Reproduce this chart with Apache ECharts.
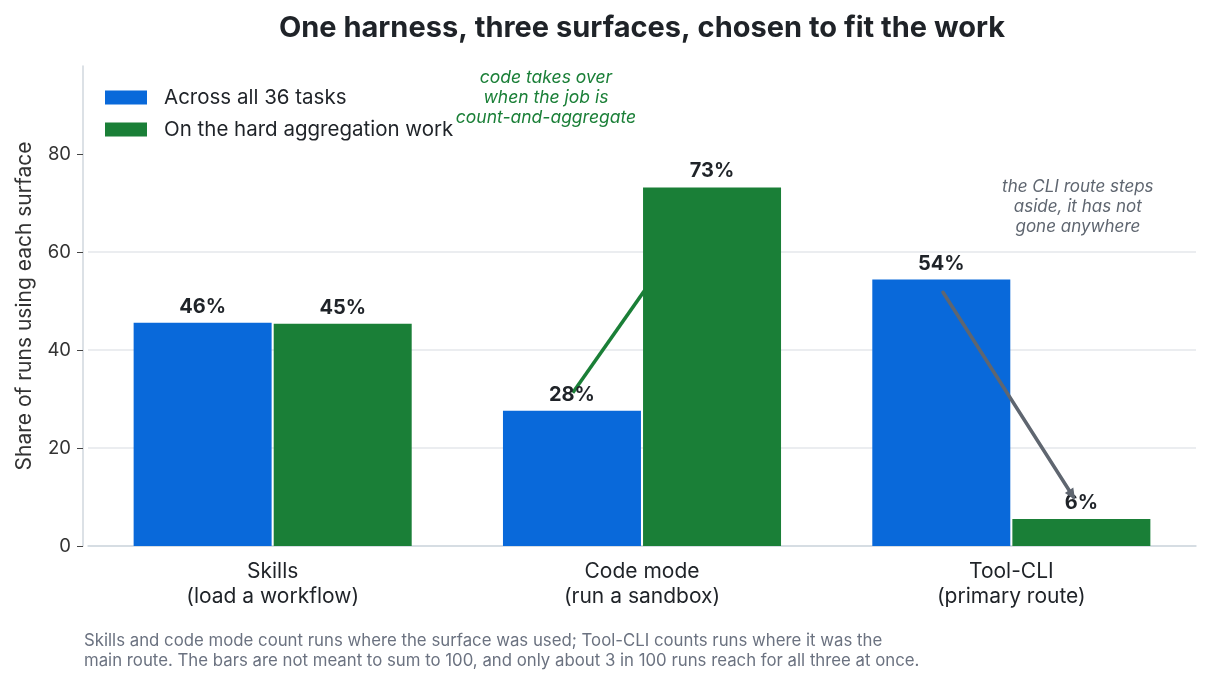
<!DOCTYPE html>
<html>
<head>
<meta charset="utf-8">
<script src="https://cdn.jsdelivr.net/npm/echarts@6/dist/echarts.min.js"></script>
<style>
  html, body { margin: 0; padding: 0; background: #fff; }
  #chart { width: 1215px; height: 686px; }
</style>
</head>
<body>
<div id="chart"></div>
<script>
// values
var categories = ['Skills\n(load a workflow)', 'Code mode\n(run a sandbox)', 'Tool-CLI\n(primary route)'];
var allTasks = [45.6, 27.6, 54.4];
var hardWork = [45.4, 73.2, 5.5];
var seriesNames = ['Across all 36 tasks', 'On the hard aggregation work'];
var yTicks = [0, 20, 40, 60, 80];

var FONT = 'Inter, "Noto Sans", sans-serif';
var BLUE = '#0969da';
var GREEN = '#1a7f37';
var GREY = '#5f6670';
var GL = 88, GR = 19;

var chart = echarts.init(document.getElementById('chart'));

var labelStyle = {
    show: true,
    position: 'top',
    distance: 6,
    fontFamily: FONT,
    fontSize: 20,
    fontWeight: 'bold',
    color: '#1f2328',
    formatter: function(p) { return Math.round(p.value) + '%'; }
};

chart.setOption({
    animation: false,
    grid: { left: GL, right: GR, top: 66, bottom: 140 },
    legend: {
        orient: 'vertical',
        left: 100,
        top: 82,
        itemWidth: 42,
        itemHeight: 14,
        itemGap: 11,
        icon: 'rect',
        textStyle: { fontFamily: FONT, fontSize: 20.5, lineHeight: 20, color: '#1f2328', padding: [0, 0, 0, 12] },
        data: seriesNames
    },
    xAxis: {
        type: 'category',
        data: categories,
        axisLine: { lineStyle: { color: '#d0d7de', width: 1.5 } },
        axisTick: { alignWithLabel: true, length: 6, lineStyle: { color: '#444' } },
        axisLabel: { fontFamily: FONT, fontSize: 21, color: '#1f2328', lineHeight: 25, margin: 13 }
    },
    yAxis: {
        type: 'value',
        min: 0,
        max: 98,
        interval: 20,
        offset: 5,
        name: 'Share of runs using each surface',
        nameLocation: 'middle',
        nameRotate: 90,
        nameGap: 48,
        nameTextStyle: { fontFamily: FONT, fontSize: 21, color: '#333' },
        axisLine: { show: true, lineStyle: { color: '#d0d7de', width: 1.5 } },
        axisTick: { show: true, length: 6, customValues: yTicks, lineStyle: { color: '#444' } },
        axisLabel: { fontFamily: FONT, fontSize: 18.5, color: '#333', margin: 12, customValues: yTicks },
        splitLine: { show: true, showMaxLine: false, lineStyle: { color: '#e5e7eb', width: 1.5 } }
    },
    series: [{
        name: seriesNames[0],
        type: 'bar',
        data: allTasks,
        barWidth: 138,
        barGap: '1.5%',
        itemStyle: { color: BLUE },
        label: labelStyle
    }, {
        name: seriesNames[1],
        type: 'bar',
        data: hardWork,
        barWidth: 138,
        itemStyle: { color: GREEN },
        label: labelStyle
    }]
});

// annotations placed in data space
var band = (1215 - GL - GR) / categories.length;
function pt(catIdx, frac, val) {
    var p = chart.convertToPixel({ gridIndex: 0 }, [catIdx, val]);
    return [p[0] + frac * band, p[1]];
}

var gStart = pt(1, -0.1875, 31.3);
var gEnd = pt(1, 0.08, 60);
var kStart = pt(2, -0.185, 51.8);
var kEnd = pt(2, 0.168, 10.0);
var ang = Math.atan2(kEnd[1] - kStart[1], kEnd[0] - kStart[0]);
var ah = 11, aw = 5;
var tip = [kEnd[0] + Math.cos(ang) * 3, kEnd[1] + Math.sin(ang) * 3];
var base = [tip[0] - Math.cos(ang) * ah, tip[1] - Math.sin(ang) * ah];
var head = [
    tip,
    [base[0] - Math.sin(ang) * aw, base[1] + Math.cos(ang) * aw],
    [base[0] + Math.sin(ang) * aw, base[1] - Math.cos(ang) * aw]
];
var greenText = pt(1, -0.26, 91.5);
var greyText = pt(2, 0.18, 69.2);
var plotMid = GL + (1215 - GL - GR) / 2;

chart.setOption({
    graphic: [{
        type: 'line',
        z: 1,
        shape: { x1: gStart[0], y1: gStart[1], x2: gEnd[0], y2: gEnd[1] },
        style: { stroke: GREEN, lineWidth: 3.5 }
    }, {
        type: 'line',
        z: 10,
        shape: { x1: kStart[0], y1: kStart[1], x2: kEnd[0], y2: kEnd[1] },
        style: { stroke: GREY, lineWidth: 3.5, lineCap: 'round' }
    }, {
        type: 'polygon',
        z: 10,
        shape: { points: head },
        style: { fill: GREY }
    }, {
        type: 'text',
        z: 10,
        x: greenText[0],
        y: greenText[1],
        style: {
            text: 'code takes over\nwhen the job is\ncount-and-aggregate',
            fill: GREEN,
            font: 'italic 17.5px ' + FONT,
            lineHeight: 20,
            align: 'center',
            verticalAlign: 'middle'
        }
    }, {
        type: 'text',
        z: 10,
        x: greyText[0],
        y: greyText[1],
        style: {
            text: 'the CLI route steps\naside, it has not\ngone anywhere',
            fill: GREY,
            font: 'italic 17px ' + FONT,
            lineHeight: 20,
            align: 'center',
            verticalAlign: 'middle'
        }
    }, {
        type: 'text',
        x: plotMid,
        y: 28,
        style: {
            text: 'One harness, three surfaces, chosen to fit the work',
            fill: '#1f2328',
            font: 'bold 29px ' + FONT,
            align: 'center',
            verticalAlign: 'middle'
        }
    }, {
        type: 'text',
        x: 84,
        y: 651,
        style: {
            text: 'Skills and code mode count runs where the surface was used; Tool-CLI counts runs where it was the\nmain route. The bars are not meant to sum to 100, and only about 3 in 100 runs reach for all three at once.',
            fill: '#6b7280',
            font: '16.8px ' + FONT,
            lineHeight: 20,
            align: 'left',
            verticalAlign: 'middle'
        }
    }]
});
</script>
</body>
</html>
